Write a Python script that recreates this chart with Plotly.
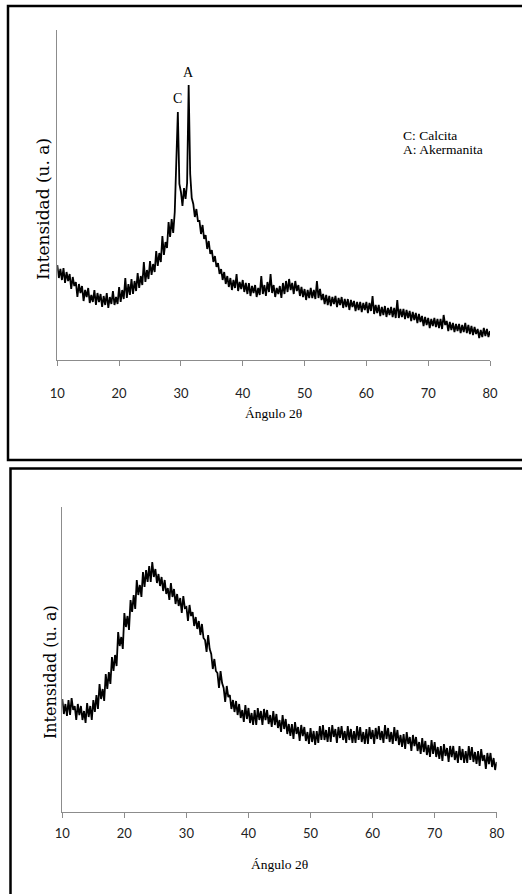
import plotly.graph_objects as go

W, H = 522, 894

# ---------------- data ----------------
ticks_x = [10, 20, 30, 40, 50, 60, 70, 80]
angle_step = 0.25
angles = [10 + i * angle_step for i in range(281)]

# Top pattern (with calcite / akermanite peaks), 0.25 deg steps, 10..80
top_intensity = [
    95, 82, 91, 80,    92, 77, 88, 79,    86, 71, 83, 74,    78, 63, 76, 67,
    74, 59, 70, 63,    72, 57, 65, 58,    70, 55, 67, 58,    66, 53, 64, 55,
    67, 52, 63, 56,    69, 55, 63, 56,    73, 58, 70, 61,    82, 62, 76, 65,
    81, 66, 79, 69,    87, 72, 84, 75,    98, 78, 90, 81,    99, 85, 96, 88,
    109, 94, 107, 98,  124, 105, 118, 112, 138, 123, 141, 127, 148, 200, 248, 176,
    168, 154, 172, 161, 177, 275, 186, 162, 156, 143, 151, 139, 139, 126, 135, 121,
    125, 111, 119, 106, 110, 98, 104, 93,  97, 86, 91, 80,    88, 76, 84, 73,
    82, 70, 80, 72,    86, 69, 78, 71,    80, 68, 77, 66,    77, 64, 74, 67,
    75, 63, 72, 65,    84, 66, 75, 64,    78, 68, 86, 67,    75, 63, 72, 66,
    74, 62, 77, 66,    79, 68, 81, 70,    77, 66, 79, 69,    75, 64, 73, 63,
    71, 60, 70, 62,    72, 62, 70, 61,    79, 62, 71, 60,    66, 56, 65, 55,
    64, 54, 63, 56,    64, 53, 62, 55,    63, 52, 61, 53,    61, 50, 60, 53,
    59, 49, 58, 50,    58, 48, 57, 50,    58, 47, 57, 49,    64, 46, 55, 47,
    55, 44, 53, 45,    54, 43, 52, 45,    53, 43, 52, 42,    60, 42, 51, 43,
    51, 41, 50, 42,    49, 39, 48, 40,    47, 37, 46, 38,    44, 34, 43, 35,
    42, 32, 41, 34,    42, 33, 41, 32,    41, 31, 45, 35,    39, 29, 38, 30,
    37, 28, 36, 29,    36, 27, 35, 28,    37, 27, 35, 26,    34, 25, 33, 26,
    31, 22, 30, 23,    32, 24, 31, 23,    29,
]

# Bottom pattern (amorphous hump), 0.25 deg steps, 10..80
bottom_intensity = [
    113, 98, 108, 96,   112, 97, 114, 102,  106, 92, 108, 97,   106, 92, 101, 89,
    109, 95, 106, 92,   112, 100, 117, 103, 128, 113, 123, 111, 138, 123, 140, 128,
    155, 141, 157, 146, 180, 166, 175, 163, 199, 185, 196, 182, 212, 200, 217, 203,
    232, 217, 227, 215, 240, 225, 242, 230, 246, 230, 250, 235, 243, 229, 238, 226,
    235, 221, 232, 218, 224, 212, 229, 215, 223, 208, 218, 206, 214, 199, 216, 204,
    205, 191, 207, 196, 200, 186, 195, 183, 191, 177, 188, 174, 172, 160, 177, 163,
    158, 143, 153, 141, 139, 124, 141, 129, 124, 110, 126, 115, 117, 103, 112, 100,
    111, 97, 108, 94,   102, 90, 107, 93,   104, 89, 99, 87,    102, 87, 104, 92,
    101, 87, 103, 92,   102, 88, 97, 85,    101, 87, 98, 84,    92, 80, 97, 83,
    93, 78, 88, 76,     88, 73, 90, 78,     85, 71, 87, 76,     85, 71, 80, 68,
    84, 70, 81, 67,     81, 69, 86, 72,     87, 72, 82, 70,     85, 70, 87, 75,
    83, 69, 85, 74,     86, 72, 81, 69,     86, 72, 83, 69,     81, 69, 86, 72,
    85, 70, 80, 68,     83, 68, 85, 73,     82, 68, 84, 73,     86, 72, 81, 69,
    87, 73, 84, 70,     80, 68, 85, 71,     82, 67, 77, 65,     78, 63, 80, 68,
    75, 61, 77, 66,     75, 61, 70, 58,     74, 60, 71, 57,     67, 55, 72, 58,
    70, 55, 65, 53,     66, 51, 68, 56,     64, 50, 66, 55,     66, 52, 61, 49,
    66, 52, 63, 49,     61, 49, 66, 52,     65, 50, 60, 48,     61, 46, 63, 51,
    57, 43, 59, 48,     59, 45, 54, 42,     50,
]

peak_labels = ["C", "A"]
peak_angles = [29.4, 31.3]
peak_label_heights = [261, 287]
legend_lines = ["C: Calcita", "A: Akermanita"]

x_title = "Ángulo 2θ"
y_title = "Intensidad (u. a)"

# ---------------- helpers ----------------
def px(x):
    return x / W

def py(y):
    return 1 - y / H

SERIF = "Liberation Serif, Times New Roman, serif"
TICKFONT = dict(family="Lato, Open Sans, sans-serif", size=13, color="#222222")
AXCOL = "#8c8c8c"

fig = go.Figure()
fig.add_trace(go.Scatter(x=angles, y=top_intensity, mode="lines",
                         line=dict(color="black", width=1.8),
                         xaxis="x", yaxis="y", showlegend=False, hoverinfo="skip"))
fig.add_trace(go.Scatter(x=angles, y=bottom_intensity, mode="lines",
                         line=dict(color="black", width=1.8),
                         xaxis="x2", yaxis="y2", showlegend=False, hoverinfo="skip"))

xcommon = dict(range=[10, 80], tickvals=ticks_x, showgrid=False, zeroline=False,
               showline=True, linecolor=AXCOL, linewidth=1.2, ticks="outside",
               ticklen=5, tickcolor=AXCOL, tickwidth=1, tickfont=TICKFONT,
               automargin=False)
ycommon = dict(showgrid=False, zeroline=False, showline=True, linecolor=AXCOL,
               linewidth=1.2, ticks="", showticklabels=False, automargin=False)

fig.update_layout(
    template="none",
    width=W, height=H, autosize=False,
    margin=dict(l=0, r=0, t=0, b=0, pad=0, autoexpand=False),
    paper_bgcolor="white", plot_bgcolor="white",
    xaxis=dict(domain=[px(57.3), px(490)], anchor="y", ticklabelstandoff=16, **xcommon),
    yaxis=dict(domain=[py(360), py(30)], anchor="x", range=[0, 330], **ycommon),
    xaxis2=dict(domain=[px(62.3), px(496.7)], anchor="y2", ticklabelstandoff=4, **xcommon),
    yaxis2=dict(domain=[py(812), py(507)], anchor="x2", range=[0, 305], **ycommon),
)

# panel borders
fig.add_shape(type="rect", xref="paper", yref="paper",
              x0=px(8), x1=px(540), y0=py(460), y1=py(6),
              line=dict(color="black", width=2.5), fillcolor="rgba(0,0,0,0)")
fig.add_shape(type="rect", xref="paper", yref="paper",
              x0=px(10.5), x1=px(540), y0=py(920), y1=py(468.5),
              line=dict(color="black", width=2.5), fillcolor="rgba(0,0,0,0)")

ann = []
# axis titles
for xc, yc in [(273, 413), (279, 864)]:
    ann.append(dict(text=x_title, xref="paper", yref="paper", x=px(xc), y=py(yc),
                    xanchor="center", yanchor="middle", showarrow=False,
                    font=dict(family=SERIF, size=13.5, color="black")))
for (xc, yc), fs in zip([(43, 209), (50, 672)], [17, 16]):
    ann.append(dict(text=y_title, xref="paper", yref="paper", x=px(xc), y=py(yc),
                    xanchor="center", yanchor="middle", showarrow=False, textangle=-90,
                    font=dict(family="DejaVu Serif, serif", size=fs, color="black")))
# peak labels
for lab, ang, hgt in zip(peak_labels, peak_angles, peak_label_heights):
    ann.append(dict(text=lab, xref="x", yref="y", x=ang, y=hgt,
                    xanchor="center", yanchor="middle", showarrow=False,
                    font=dict(family=SERIF, size=14, color="black")))
# legend text
for i, line in enumerate(legend_lines):
    ann.append(dict(text=line, xref="paper", yref="paper", x=px(401), y=py(135 + 15 * i),
                    xanchor="left", yanchor="middle", showarrow=False,
                    font=dict(family=SERIF, size=13.5, color="black")))
fig.update_layout(annotations=ann)

fig.write_html("out.html",
               config=dict(displayModeBar=False, responsive=False),
               post_script="document.body.style.margin='0px';document.body.style.overflow='hidden';")
